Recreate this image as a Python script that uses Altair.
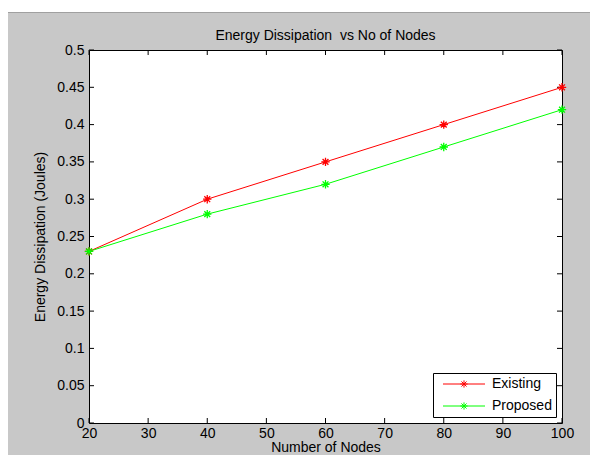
import altair as alt
import pandas as pd

# ---- data ----
nodes = [20, 40, 60, 80, 100]
existing = [0.23, 0.30, 0.35, 0.40, 0.45]
proposed = [0.23, 0.28, 0.32, 0.37, 0.42]
series_names = ["Existing", "Proposed"]
series_colors = ["#ff0000", "#00ff00"]
x_ticks = [20, 30, 40, 50, 60, 70, 80, 90, 100]
y_ticks = [0, 0.05, 0.1, 0.15, 0.2, 0.25, 0.3, 0.35, 0.4, 0.45, 0.5]

W, H = 473, 373
FONT = "Liberation Sans"
TICK = 5

df = pd.DataFrame({
    "nodes": nodes * 2,
    "energy": existing + proposed,
    "series": [series_names[0]] * len(nodes) + [series_names[1]] * len(nodes),
})
xt = pd.DataFrame({"nodes": x_ticks})
yt = pd.DataFrame({"energy": y_ticks})
one = pd.DataFrame({"a": [0]})

STAR = "M-1,0L1,0M0,-1L0,1M-0.7,-0.7L0.7,0.7M-0.7,0.7L0.7,-0.7"
LEG = ("M-1,0L13,0M4.8,0L7.2,0M6,-1.2L6,1.2"
       "M5.15,-0.85L6.85,0.85M5.15,0.85L6.85,-0.85")

xscale = alt.Scale(domain=[20, 100], nice=False)
yscale = alt.Scale(domain=[0, 0.5], nice=False)

xaxis = alt.Axis(values=x_ticks, ticks=False, domain=False, grid=False,
                 labelFont=FONT, labelFontSize=14, labelColor="black",
                 labelPadding=3, labelFlush=False,
                 title="Number of Nodes", titleFont=FONT, titleFontSize=14,
                 titleFontWeight="normal", titleColor="black", titlePadding=0)
yaxis = alt.Axis(values=y_ticks, ticks=False, domain=False, grid=False,
                 format=".2~f",
                 labelFont=FONT, labelFontSize=14, labelColor="black",
                 labelPadding=5, labelFlush=False,
                 title="Energy Dissipation (Joules)", titleFont=FONT,
                 titleFontSize=14, titleFontWeight="normal", titleColor="black",
                 titlePadding=9)

X = alt.X("nodes:Q", scale=xscale, axis=xaxis)
Y = alt.Y("energy:Q", scale=yscale, axis=yaxis)

legend = alt.Legend(title=None, orient="bottom-right", offset=6, padding=4,
                    strokeColor="black", fillColor="white",
                    symbolType=LEG, symbolSize=36, symbolStrokeWidth=1,
                    labelFont=FONT, labelFontSize=14, labelColor="black",
                    labelOffset=39, rowPadding=8, symbolOffset=2)
color = alt.Color("series:N",
                  scale=alt.Scale(domain=series_names, range=series_colors),
                  legend=legend)

# toolbar strip of the MATLAB window (decoration)
strip = alt.Chart(one).mark_rect(color="white").encode(
    x=alt.value(-81), x2=alt.value(W + 30), y=alt.value(-42), y2=alt.value(-38))
strip_line = alt.Chart(one).mark_rule(color="#a0a0a0").encode(
    x=alt.value(-81), x2=alt.value(W + 30), y=alt.value(-37.5))

# inward ticks on all four sides
t_bottom = alt.Chart(xt).mark_rule(color="black").encode(
    x=X, y=alt.value(H), y2=alt.value(H - TICK))
t_top = alt.Chart(xt).mark_rule(color="black").encode(
    x=X, y=alt.value(0), y2=alt.value(TICK))
t_left = alt.Chart(yt).mark_rule(color="black").encode(
    y=Y, x=alt.value(0), x2=alt.value(TICK))
t_right = alt.Chart(yt).mark_rule(color="black").encode(
    y=Y, x=alt.value(W), x2=alt.value(W - TICK))

lines = alt.Chart(df).mark_line(strokeWidth=1).encode(x=X, y=Y, color=color)
points = alt.Chart(df).mark_point(shape=STAR, size=70, filled=False,
                                  strokeWidth=1.3, opacity=1).encode(
    x=X, y=Y, color=color)

chart = alt.layer(strip, strip_line, t_bottom, t_top, t_left, t_right,
                  lines, points).properties(
    width=W, height=H,
    padding={"left": 81, "top": 42, "right": 28, "bottom": 32},
    autosize=alt.AutoSizeParams(type="none"),
    background="#c8c8c8",
    title=alt.TitleParams("Energy Dissipation \u00a0vs No of Nodes", font=FONT,
                          fontSize=14, fontWeight="normal", color="black",
                          frame="group", offset=-35),
).configure_view(stroke="black", strokeWidth=1, fill="white")

chart.save("out.html", embed_options={"renderer": "svg", "actions": False})
